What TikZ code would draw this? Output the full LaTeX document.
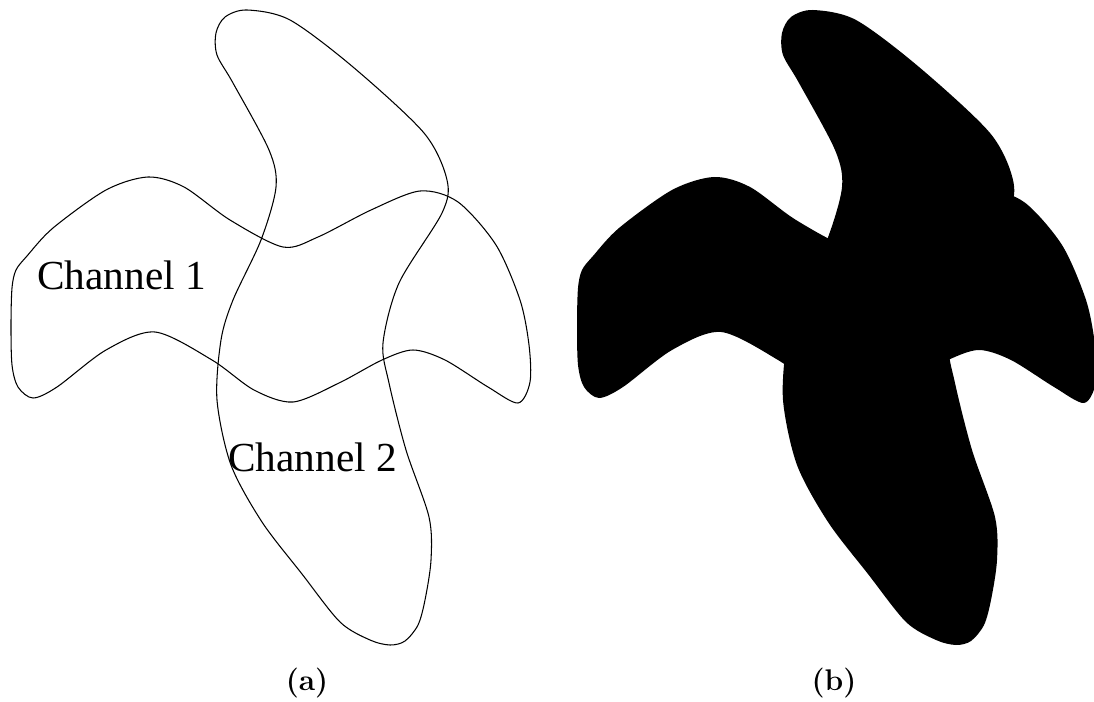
\documentclass[tikz,border=0pt]{standalone}
\usepackage{fontspec}
\newfontfamily\chanfont{Liberation Serif}
\newcommand{\chanonepath}{plot[smooth cycle] coordinates {(11,325) (12,288) (16,270) (27,256) (53,228) (106,190) (148,177) (184,187) (230,220) (283,247) (318,237) (371,210) (420,191) (458,202) (496,245) (520,300) (529,345) (530,382) (518,403) (488,387) (445,360) (413,350) (382,360) (339,383) (293,402) (254,390) (212,360) (155,332) (106,350) (57,387) (33,398) (18,387) (12,365)}}
\newcommand{\chantwopath}{plot[smooth cycle] coordinates {(216,33) (225,17) (247,10) (290,20) (353,67) (424,133) (447,180) (442,213) (399,283) (383,343) (389,383) (406,450) (429,517) (431,560) (425,600) (418,625) (405,641) (390,645) (370,640) (340,622) (302,574) (262,522) (231,465) (217,400) (221,340) (233,300) (261,240) (276,187) (269,150) (233,83) (217,55)}}
\tikzset{
  chanlabel/.style={font=\chanfont\fontsize{23.5}{28}\selectfont,inner sep=0pt},
  sublabel/.style={font=\fontsize{17}{20}\selectfont\bfseries,inner sep=0pt}
}
\begin{document}
\begin{tikzpicture}[x=0.02cm,y=-0.02cm]
  \useasboundingbox (0,0) rectangle (1094,702);
  % (a): the two channels, outlined
  \draw[line width=0.6pt] \chanonepath;
  \draw[line width=0.6pt] \chantwopath;
  \node[chanlabel,anchor=base west] (chone) at (37,290) {Channel 1};
  \node[chanlabel,anchor=base west] (chtwo) at (228,471) {Channel 2};
  \node[sublabel,anchor=base] (capa) at (307,690) {(a)};
  % (b): union of both channels
  \begin{scope}[shift={(566,0)}]
    \fill[black] \chanonepath;
    \fill[black] \chantwopath;
  \end{scope}
  \node[sublabel,anchor=base] (capb) at (834,690) {(b)};
\end{tikzpicture}
\end{document}
